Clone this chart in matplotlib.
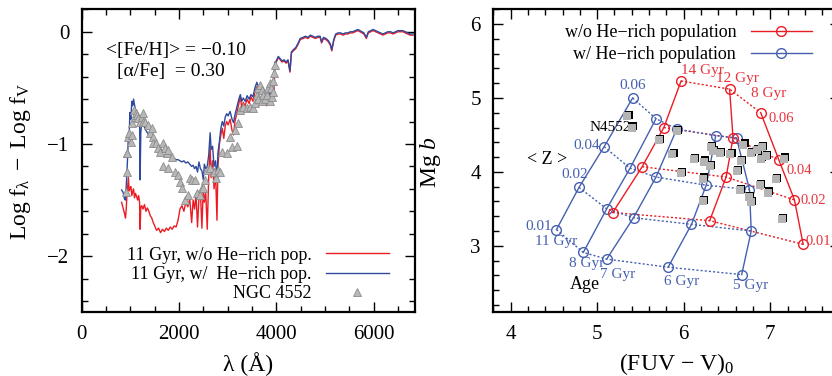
import matplotlib
matplotlib.use("Agg")
import matplotlib.pyplot as plt
from matplotlib.ticker import MultipleLocator
from matplotlib.transforms import offset_copy

plt.rcParams['font.family'] = ['Liberation Serif', 'DejaVu Serif']
plt.rcParams['mathtext.fontset'] = 'custom'
plt.rcParams['mathtext.rm'] = 'Liberation Serif'
plt.rcParams['mathtext.it'] = 'Liberation Serif:italic'

# ---------------- Left panel data: spectra ----------------
wave = [820, 850, 880, 900, 915, 930, 945, 960, 975, 990, 1010, 1030, 1050, 1065, 1085, 1105,
        1130, 1150, 1170, 1190, 1200, 1215, 1235, 1260, 1290, 1320, 1350, 1380, 1410, 1440,
        1470, 1500, 1540, 1580, 1620, 1660, 1700, 1740, 1780, 1820, 1860, 1900, 1940, 1980,
        2020, 2060, 2100, 2140, 2180, 2220, 2260, 2290, 2320, 2350, 2380, 2410, 2440, 2470,
        2500, 2520, 2550, 2580, 2610, 2640, 2660, 2690, 2720, 2750, 2780, 2800, 2830, 2860,
        2890, 2920, 2950, 2980, 3010, 3050, 3090, 3120, 3150, 3190, 3230, 3260, 3290, 3320,
        3360, 3400, 3440, 3480, 3520, 3560, 3600, 3640, 3680, 3720, 3760, 3800, 3840, 3880,
        3920, 3950, 3970, 4000, 4040, 4080, 4120, 4160, 4200, 4240, 4280, 4310, 4350, 4400,
        4450, 4490, 4550, 4600, 4650, 4700, 4750, 4800, 4850, 4900, 4930, 4970, 5020, 5070,
        5110, 5140, 5180, 5220, 5270, 5320, 5370, 5420, 5470, 5520, 5570, 5620, 5680, 5720,
        5760, 5800, 5850, 5890, 5940, 5990, 6040, 6090, 6140, 6190, 6240, 6290, 6350, 6400,
        6450, 6500, 6550, 6600, 6650, 6700, 6750, 6810]

flux_wo_he = [-1.52, -1.57, -1.62, -1.66, -1.58, -1.46, -1.38, -1.30, -1.42, -1.40, -1.38, -1.46,
              -1.42, -1.40, -1.48, -1.44, -1.47, -1.50, -1.46, -1.52, -1.76, -1.56, -1.55, -1.58,
              -1.54, -1.60, -1.57, -1.60, -1.64, -1.66, -1.70, -1.73, -1.77, -1.75, -1.79, -1.76,
              -1.78, -1.75, -1.77, -1.74, -1.76, -1.73, -1.74, -1.68, -1.58, -1.55, -1.60, -1.52,
              -1.56, -1.49, -1.70, -1.50, -1.58, -1.45, -1.74, -1.48, -1.42, -1.75, -1.38, -1.52,
              -1.44, -1.76, -1.30, -1.02, -1.30, -1.15, -1.40, -1.25, -1.68, -1.20, -1.00, -0.92,
              -0.86, -0.95, -0.84, -0.80, -0.83, -0.78, -0.88, -0.92, -0.80, -0.72, -0.64, -0.58,
              -0.68, -0.63, -0.66, -0.60, -0.64, -0.58, -0.62, -0.54, -0.49, -0.55, -0.52, -0.62,
              -0.56, -0.66, -0.54, -0.63, -0.50, -0.60, -0.30, -0.27, -0.23, -0.25, -0.27, -0.26,
              -0.28, -0.26, -0.36, -0.19, -0.17, -0.15, -0.11, -0.07, -0.06, -0.05, -0.06, -0.04,
              -0.05, -0.06, -0.05, -0.05, -0.10, -0.06, -0.07, -0.09, -0.12, -0.17, -0.08, -0.03,
              -0.02, -0.02, -0.03, -0.02, -0.02, -0.01, -0.01, 0.00, 0.01, 0.00, -0.01, -0.02,
              -0.06, -0.01, 0.00, 0.01, 0.00, -0.01, -0.02, -0.03, -0.02, -0.01, -0.01, -0.02,
              -0.01, 0.00, 0.00, 0.00, -0.01, -0.02, -0.03, -0.03]

flux_w_he = [-1.41, -1.43, -1.49, -1.50, -1.38, -1.25, -1.10, -0.90, -0.95, -0.72, -0.78, -0.62,
             -0.66, -0.60, -0.65, -0.70, -0.70, -0.76, -0.80, -0.82, -1.32, -0.90, -0.80, -0.84,
             -0.85, -0.88, -0.90, -0.92, -0.94, -0.95, -0.97, -0.99, -1.00, -1.03, -1.04, -1.06,
             -1.07, -1.09, -1.10, -1.11, -1.12, -1.13, -1.14, -1.14, -1.15, -1.16, -1.15, -1.17,
             -1.16, -1.18, -1.20, -1.19, -1.22, -1.20, -1.25, -1.16, -1.22, -1.24, -1.32, -1.18,
             -1.22, -1.20, -1.10, -0.90, -1.05, -1.02, -1.20, -1.15, -1.32, -1.08, -0.98, -0.86,
             -0.80, -0.84, -0.76, -0.73, -0.75, -0.71, -0.78, -0.81, -0.74, -0.67, -0.60, -0.56,
             -0.62, -0.59, -0.62, -0.57, -0.60, -0.56, -0.58, -0.50, -0.45, -0.52, -0.49, -0.57,
             -0.52, -0.60, -0.51, -0.57, -0.47, -0.40, -0.27, -0.26, -0.22, -0.24, -0.26, -0.25,
             -0.27, -0.25, -0.35, -0.18, -0.16, -0.14, -0.10, -0.06, -0.05, -0.04, -0.05, -0.03,
             -0.04, -0.05, -0.04, -0.04, -0.09, -0.05, -0.06, -0.08, -0.11, -0.16, -0.07, -0.02,
             -0.01, -0.01, -0.02, -0.01, -0.01, 0.00, 0.00, 0.01, 0.02, 0.01, 0.00, -0.01,
             -0.05, 0.00, 0.01, 0.02, 0.01, 0.00, -0.01, -0.02, -0.01, 0.00, 0.00, -0.01,
             0.00, 0.01, 0.01, 0.01, 0.00, -0.01, -0.02, -0.02]

ngc_wave = [911, 925, 938, 930, 958, 979, 1007, 1028, 1028, 1075, 1100, 1116, 1140, 1164, 1198,
            1230, 1250, 1267, 1301, 1370, 1404, 1439, 1459, 1473, 1527, 1575, 1610, 1678, 1712,
            1747, 1781, 1850, 1678, 1781, 1918, 1986, 2021, 2055, 2124, 2192, 2226, 2261, 2329,
            2364, 2432, 2466, 2500, 2534, 2569, 2637, 2719, 2760, 2808, 2842, 2877, 2980, 3083,
            3185, 3048, 3151, 3219, 3254, 3322, 3391, 3459, 3527, 3562, 3597, 3620, 3630, 3665,
            3699, 3700, 3733, 3760, 3802, 3836, 3860, 3870, 3900, 3905, 3930, 3939, 3955, 3973]
ngc_flux = [-1.425, -1.247, -1.077, -1.08, -0.935, -0.905, -0.98, -0.92, -0.816, -0.697, -0.76,
            -0.727, -0.74, -0.771, -0.80, -0.76, -0.80, -0.727, -0.80, -0.831, -0.905, -0.86,
            -0.935, -0.994, -0.994, -1.04, -1.068, -0.994, -1.04, -1.083, -1.053, -1.113, -1.196,
            -1.216, -1.247, -1.276, -1.336, -1.395, -1.50, -1.454, -1.306, -1.32, -1.32, -1.44,
            -1.454, -1.395, -1.395, -1.32, -1.23, -1.216, -1.247, -1.306, -1.23, -1.247, -1.068,
            -1.083, -1.024, -1.018, -0.935, -0.875, -0.816, -0.697, -0.668, -0.682, -0.668,
            -0.682, -0.638, -0.564, -0.60, -0.504, -0.475, -0.519, -0.62, -0.564, -0.60, -0.564,
            -0.504, -0.62, -0.46, -0.50, -0.579, -0.44, -0.534, -0.365, -0.297]

# ---------------- Right panel data: model grids ----------------
z_labels = ["0.01", "0.02", "0.04", "0.06"]
# with He-rich population (blue): ages 11, 8, 7, 6, 5 Gyr ; rows follow z_labels
blue_ages = ["11 Gyr", "8 Gyr", "7 Gyr", "6 Gyr", "5 Gyr"]
blue_fuv = [[4.53, 4.79, 5.08, 5.41],
            [4.84, 5.11, 5.38, 5.68],
            [5.11, 5.42, 5.68, 5.92],
            [5.82, 6.09, 6.26, 6.37],
            [6.67, 6.78, 6.76, 6.61]]
blue_mgb = [[3.22, 3.79, 4.34, 5.00],
            [2.91, 3.50, 4.05, 4.72],
            [2.82, 3.38, 3.93, 4.58],
            [2.71, 3.29, 3.82, 4.49],
            [2.61, 3.20, 3.76, 4.46]]
# without He-rich population (red): ages 14, 12, 8 Gyr
red_ages = ["14 Gyr", "12 Gyr", "8 Gyr"]
red_fuv = [[5.18, 5.52, 5.77, 5.97],
           [6.30, 6.49, 6.57, 6.53],
           [7.38, 7.28, 7.10, 6.89]]
red_mgb = [[3.45, 4.07, 4.60, 5.23],
           [3.34, 3.93, 4.46, 5.12],
           [3.02, 3.62, 4.16, 4.80]]

gal_fuv = [5.35, 5.40, 5.71, 5.87, 5.92, 5.97, 6.12, 6.23, 6.30, 6.22, 6.22, 6.31, 6.34, 6.42,
           6.54, 6.62, 6.66, 6.69, 6.65, 6.75, 6.78, 6.78, 6.85, 6.90, 6.89, 6.95, 6.88, 6.97,
           7.07, 7.16, 7.13]
gal_mgb = [4.75, 4.60, 4.43, 4.24, 4.55, 3.98, 4.17, 4.14, 4.08, 3.91, 3.60, 4.33, 4.28, 4.25,
           4.24, 4.01, 4.15, 4.37, 3.75, 3.66, 3.59, 4.26, 4.30, 4.34, 4.18, 4.22, 3.82, 3.72,
           3.90, 4.18, 3.36]

RED = '#ec1c24'
BLUE_L = '#2e4a9e'
BLUE = '#4560b0'
RED_T = '#e8343c'

fig = plt.figure(figsize=(8.32, 3.76), dpi=100)
W, H = 832.0, 376.0

def setup(ax):
    for s in ax.spines.values():
        s.set_linewidth(1.6)
    ax.tick_params(which='both', direction='in', top=True, right=True, labelsize=15, width=1.0)
    ax.tick_params(which='major', length=7, pad=9)
    ax.tick_params(which='minor', length=4)

# ---------------- Left ----------------
ax1 = fig.add_axes([81.7 / W, 1 - 312.3 / H, (415 - 81.7) / W, (312.3 - 9.3) / H])
setup(ax1)
ax1.plot(wave, flux_wo_he, color=RED, lw=1.0, label='11 Gyr, w/o He\u2212rich pop.')
ax1.plot(wave, flux_w_he, color=BLUE_L, lw=1.0, label='11 Gyr, w/  He\u2212rich pop.')
ax1.plot(ngc_wave, ngc_flux, linestyle='none', marker='^', ms=5.5, mfc='#b8b8b8',
         mec='#8c8c8c', mew=0.6, label='NGC 4552')
ax1.set_xlim(0, 6850)
ax1.set_ylim(-2.5, 0.2)
ax1.xaxis.set_major_locator(MultipleLocator(2000))
ax1.xaxis.set_minor_locator(MultipleLocator(500))
ax1.yaxis.set_major_locator(MultipleLocator(1))
ax1.yaxis.set_minor_locator(MultipleLocator(0.2))
ax1.text(500, -0.163, '<[Fe/H]> = \u22120.10', fontsize=14, va='center', ha='left')
ax1.text(719, -0.356, '[\u03b1/Fe]  = 0.30', fontsize=14, va='center', ha='left')
ax1.legend(loc='lower right', bbox_to_anchor=(389 / W, 1 - 302 / H),
           bbox_transform=fig.transFigure, frameon=False, markerfirst=False,
           fontsize=13, handlelength=3.5, handletextpad=0.8, labelspacing=0.12,
           borderpad=0, borderaxespad=0)
fig.text(21 / W, 1 - 160.8 / H, r'$\mathregular{Log\ f_\lambda\ -\ Log\ f_V}$',
         rotation=90, fontsize=17, ha='center', va='center')
fig.text(248.3 / W, 1 - 364 / H, '\u03bb (\u00c5)', fontsize=17, ha='center', va='center')

# ---------------- Right ----------------
ax2 = fig.add_axes([493.3 / W, 1 - 312.3 / H, (839.5 - 493.3) / W, (312.3 - 9.3) / H])
setup(ax2)
ax2.set_xlim(3.8, 7.8)
ax2.set_ylim(2.1, 6.2)
ax2.xaxis.set_major_locator(MultipleLocator(1))
ax2.xaxis.set_minor_locator(MultipleLocator(0.2))
ax2.yaxis.set_major_locator(MultipleLocator(1))
ax2.yaxis.set_minor_locator(MultipleLocator(0.2))

# dotted iso-metallicity lines
for j in range(len(z_labels)):
    ax2.plot([c[j] for c in blue_fuv], [c[j] for c in blue_mgb], ls=(0, (1.5, 1.5)),
             color=BLUE, lw=1.0)
    ax2.plot([c[j] for c in red_fuv], [c[j] for c in red_mgb], ls=(0, (1.5, 1.5)),
             color=RED, lw=1.0)
# solid iso-age lines
for i in range(len(blue_ages)):
    ax2.plot(blue_fuv[i], blue_mgb[i], '-o', color=BLUE, lw=1.0, ms=7, mfc='none', mew=1.0)
for i in range(len(red_ages)):
    ax2.plot(red_fuv[i], red_mgb[i], '-o', color=RED, lw=1.0, ms=7, mfc='none', mew=1.0)

shadow = offset_copy(ax2.transData, fig=fig, x=0.8, y=0.8, units='points')
ax2.plot(gal_fuv, gal_mgb, 's', color='black', ms=5.5, mew=0, transform=shadow, zorder=4)
ax2.plot(gal_fuv, gal_mgb, 's', color='#b4b4b4', ms=5.5, mew=0, zorder=5)

lab_fs = 11
# blue Z labels
for txt, (x, y) in zip(z_labels, [(4.327, 3.258), (4.737, 3.971), (4.88, 4.355), (5.406, 5.173)]):
    ax2.text(x, y, txt, color=BLUE, fontsize=lab_fs, ha='center', va='center')
for txt, (x, y) in zip(blue_ages, [(4.528, 3.058), (4.874, 2.760), (5.239, 2.606),
                                   (5.981, 2.511), (6.778, 2.457)]):
    ax2.text(x, y, txt, color=BLUE, fontsize=lab_fs, ha='center', va='center')
for txt, (x, y) in zip(red_ages, [(6.219, 5.367), (6.623, 5.268), (6.976, 5.065)]):
    ax2.text(x, y, txt, color=RED_T, fontsize=lab_fs, ha='center', va='center')
for txt, (x, y) in zip(z_labels, [(7.555, 3.059), (7.499, 3.616), (7.333, 4.016), (7.13, 4.717)]):
    ax2.text(x, y, txt, color=RED_T, fontsize=lab_fs - 0.5, ha='center', va='center')
ax2.text(4.424, 4.171, '< Z >', fontsize=13, ha='center', va='center')
ax2.text(4.862, 2.477, 'Age', fontsize=13, ha='center', va='center')
ax2.text(5.153, 4.599, 'N4552', fontsize=11, ha='center', va='center')

h1, = ax2.plot([], [], '-o', color=RED, lw=1.0, ms=7, mfc='none', mew=1.0)
h2, = ax2.plot([], [], '-o', color=BLUE, lw=1.0, ms=7, mfc='none', mew=1.0)
fig.legend([h1, h2], ['w/o He\u2212rich population', 'w/ He\u2212rich population'],
           loc='upper right', bbox_to_anchor=(812 / W, 1 - 24 / H), frameon=False,
           markerfirst=False, fontsize=13, handlelength=3.4, handletextpad=0.8,
           labelspacing=0.28, borderpad=0, borderaxespad=0)

fig.text(430.7 / W, 1 - 162 / H, r'Mg $\it{b}$', rotation=90, fontsize=17, ha='center',
         va='center')
fig.text(677 / W, 1 - 364 / H, r'(FUV $\mathregular{-}$ V)$_\mathregular{0}$', fontsize=17,
         ha='center', va='center')

fig.savefig('out.png', dpi=100)
